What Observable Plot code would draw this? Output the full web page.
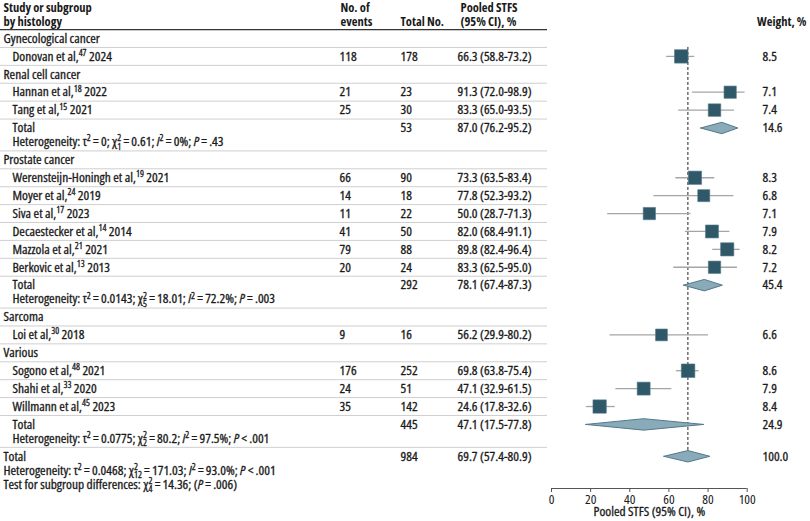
<!DOCTYPE html>
<html>
<head>
<meta charset="utf-8">
<script src="https://cdn.jsdelivr.net/npm/d3@7"></script>
<script src="https://cdn.jsdelivr.net/npm/@observablehq/plot@0.6"></script>
<style>
  html, body { margin: 0; padding: 0; background: #fff; }
  #chart svg { display: block; }
  #chart text { white-space: pre; }
</style>
</head>
<body>
<div id="chart"></div>
<script>
// ---------------- DATA ----------------
const groups = ["Gynecological cancer", "Renal cell cancer", "Prostate cancer", "Sarcoma", "Various"];

const studies = [
  "Donovan et al,^{47} 2024",
  "Hannan et al,^{18} 2022",
  "Tang et al,^{15} 2021",
  "Werensteijn-Honingh et al,^{19} 2021",
  "Moyer et al,^{24} 2019",
  "Siva et al,^{17} 2023",
  "Decaestecker et al,^{14} 2014",
  "Mazzola et al,^{21} 2021",
  "Berkovic et al,^{13} 2013",
  "Loi et al,^{30} 2018",
  "Sogono et al,^{48} 2021",
  "Shahi et al,^{33} 2020",
  "Willmann et al,^{45} 2023"
];
const studyGroup = [0, 1, 1, 2, 2, 2, 2, 2, 2, 3, 4, 4, 4];
const events     = [118, 21, 25, 66, 14, 11, 41, 79, 20, 9, 176, 24, 35];
const totalN     = [178, 23, 30, 90, 18, 22, 50, 88, 24, 16, 252, 51, 142];
const estimate   = [66.3, 91.3, 83.3, 73.3, 77.8, 50.0, 82.0, 89.8, 83.3, 56.2, 69.8, 47.1, 24.6];
const lower      = [58.8, 72.0, 65.0, 63.5, 52.3, 28.7, 68.4, 82.4, 62.5, 29.9, 63.8, 32.9, 17.8];
const upper      = [73.2, 98.9, 93.5, 83.4, 93.2, 71.3, 91.1, 96.4, 95.0, 80.2, 75.4, 61.5, 32.6];
const weight     = [8.5, 7.1, 7.4, 8.3, 6.8, 7.1, 7.9, 8.2, 7.2, 6.6, 8.6, 7.9, 8.4];

const subGroup    = [1, 2, 4];
const subN        = [53, 292, 445];
const subEstimate = [87.0, 78.1, 47.1];
const subLower    = [76.2, 67.4, 17.5];
const subUpper    = [95.2, 87.3, 77.8];
const subWeight   = [14.6, 45.4, 24.9];
const subHetero   = [
  "Heterogeneity: τ^{2}\u2009=\u20090; χ_{1}^{2}\u2009=\u20090.61; *I*^{2}\u2009=\u20090%; *P*\u2009=\u2009.43",
  "Heterogeneity: τ^{2}\u2009=\u20090.0143; χ_{5}^{2}\u2009=\u200918.01; *I*^{2}\u2009=\u200972.2%; *P*\u2009=\u2009.003",
  "Heterogeneity: τ^{2}\u2009=\u20090.0775; χ_{2}^{2}\u2009=\u200980.2; *I*^{2}\u2009=\u200997.5%; *P*\u2009<\u2009.001"
];

const overallN = 984, overallEstimate = 69.7, overallLower = 57.4, overallUpper = 80.9, overallWeight = 100.0;
const overallHetero = "Heterogeneity: τ^{2}\u2009=\u20090.0468; χ_{12}^{2}\u2009=\u2009171.03; *I*^{2}\u2009=\u200993.0%; *P*\u2009<\u2009.001";
const subgroupTest = "Test for subgroup differences: χ_{4}^{2}\u2009=\u200914.36; (*P*\u2009=\u2009.006)";

const headerStudy = "Study or subgroup\nby histology";
const headerEvents = "No. of\nevents";
const headerTotal = "Total No.";
const headerCI = "Pooled STFS\n(95% CI), %";
const headerWeight = "Weight, %";
const xTicks = [0, 20, 40, 60, 80, 100];
const xLabel = "Pooled STFS (95% CI), %";

// ---------------- LAYOUT ----------------
const FONT = "'Open Sans', 'DejaVu Sans Condensed', sans-serif";
const FS = 13.4;
const INK = "#1a1a1a";
const W = 810, H = 521;
const X0 = 551, X100 = 746.7;               // pixel positions of 0 and 100
const ppu = (X100 - X0) / 100;
const ROW = 17.9, Y0 = 38, AXIS_Y = 488;    // row pitch, first row centre, axis line
const col = {study: 3, indent: 12, events: 339, total: 400, ci: 457, weight: 762};
const tableRight = 547;

const fmt = v => v.toFixed(1);
const ciText = (e, l, u) => `${fmt(e)} (${fmt(l)}-${fmt(u)})`;

const rows = [];
let u = -1;
function push(r) { u += (r.kind === "het" ? 0.78 : 1); r.u = u; rows.push(r); }
groups.forEach((g, gi) => {
  push({kind: "group", label: g});
  studyGroup.forEach((sg, i) => {
    if (sg !== gi) return;
    push({kind: "study", label: studies[i], events: events[i], total: totalN[i],
          ci: ciText(estimate[i], lower[i], upper[i]), est: estimate[i], lo: lower[i], hi: upper[i], w: weight[i]});
  });
  const si = subGroup.indexOf(gi);
  if (si >= 0) {
    push({kind: "total", label: "Total", total: subN[si], ci: ciText(subEstimate[si], subLower[si], subUpper[si]),
          est: subEstimate[si], lo: subLower[si], hi: subUpper[si], w: subWeight[si]});
    push({kind: "het", label: subHetero[si]});
  }
});
push({kind: "overall", label: "Total", total: overallN, ci: ciText(overallEstimate, overallLower, overallUpper),
      est: overallEstimate, lo: overallLower, hi: overallUpper, w: overallWeight});
push({kind: "het", label: overallHetero, flush: true});
push({kind: "het", label: subgroupTest, flush: true});

// separators between rows
const seps = [];
for (let i = 1; i < rows.length; i++) {
  if (rows[i].kind === "het") continue;
  seps.push((rows[i - 1].u + rows[i].u) / 2);
}

const studyRows = rows.filter(r => r.kind === "study");
const totalRows = rows.filter(r => r.kind === "total" || r.kind === "overall");
const HH = 0.32; // diamond half-height (rows)
const diamonds = totalRows.flatMap((r, k) => [
  {x: r.lo, y: r.u, id: k}, {x: r.est, y: r.u - HH, id: k}, {x: r.hi, y: r.u, id: k},
  {x: r.est, y: r.u + HH, id: k}, {x: r.lo, y: r.u, id: k}
]);
const overallRow = rows.find(r => r.kind === "overall");

const uOf = px => (px - Y0) / ROW;
const hLine1 = uOf(7), hLine2 = uOf(21), hMid = (hLine1 + hLine2) / 2;

const txt = {fill: INK, stroke: INK, strokeWidth: 0.3, fontSize: FS, frameAnchor: "left", textAnchor: "start"};
const num = {...txt, letterSpacing: "0.55px"};
const hdr = {...txt, stroke: null, fontSize: 12.5, fontWeight: "bold", lineHeight: 14 / 12.5};

const svg = Plot.plot({
  width: W, height: H,
  marginLeft: 0, marginRight: 0, marginTop: 0, marginBottom: H - AXIS_Y,
  style: {fontFamily: FONT, fontSize: FS + "px", fontStretch: "75%", background: "white", color: INK},
  x: {domain: [-X0 / ppu, (W - X0) / ppu]},
  y: {domain: [uOf(0), uOf(AXIS_Y)], reverse: true, axis: null},
  r: {type: "sqrt", domain: [0, 10], range: [0, 2.6 * Math.sqrt(10)]},
  marks: [
    // table separators
    Plot.ruleY(seps, {stroke: "#cfcfcf", strokeWidth: 1, insetRight: W - tableRight}),
    Plot.ruleY([-0.5], {stroke: "#333", strokeWidth: 1.2, insetRight: W - tableRight}),
    // header
    Plot.text([headerStudy], {...hdr, y: hMid, dx: col.study}),
    Plot.text([headerEvents], {...hdr, y: hMid, dx: col.events + 1}),
    Plot.text([headerTotal], {...hdr, y: hLine2, dx: col.total}),
    Plot.text([headerCI], {...hdr, y: hMid, dx: col.ci + 3}),
    Plot.text([headerWeight], {...hdr, y: hLine2, frameAnchor: "right", textAnchor: "end", dx: -4}),
    // labels
    Plot.text(rows.filter(r => r.kind === "group" || r.kind === "overall" || r.flush), {...txt, y: "u", text: "label", dx: col.study}),
    Plot.text(rows.filter(r => !(r.kind === "group" || r.kind === "overall" || r.flush)), {...txt, y: "u", text: "label", dx: col.indent}),
    Plot.text(rows.filter(r => r.events != null), {...num, y: "u", text: "events", dx: col.events}),
    Plot.text(rows.filter(r => r.total != null), {...num, y: "u", text: "total", dx: col.total}),
    Plot.text(rows.filter(r => r.ci != null), {...num, y: "u", text: "ci", dx: col.ci}),
    Plot.text(rows.filter(r => r.w != null), {...num, y: "u", text: d => fmt(d.w), dx: col.weight}),
    // forest
    Plot.ruleX([overallEstimate], {y1: 0.5, y2: overallRow.u - HH, stroke: "#222", strokeWidth: 1, strokeDasharray: "3,2"}),
    Plot.ruleY(studyRows, {y: "u", x1: "lo", x2: "hi", stroke: "#a5a5a5", strokeWidth: 1.3}),
    Plot.dot(studyRows, {x: "est", y: "u", r: "w", symbol: "square", fill: "#2f5968", stroke: "#56798a", strokeWidth: 0.6}),
    Plot.line(diamonds, {x: "x", y: "y", z: "id", fill: "#89aab8", stroke: "#54798a", strokeWidth: 1, curve: "linear"}),
    // axis
    Plot.ruleY([uOf(AXIS_Y)], {x1: 0, x2: 100, stroke: "#555", strokeWidth: 1}),
    Plot.axisX({ticks: xTicks, tickSize: 4, tickPadding: 2, label: null, fontSize: FS, stroke: "#555", fill: INK}),
    Plot.text([xLabel], {x: 50, y: uOf(511.5), fontSize: FS, fill: INK, stroke: INK, strokeWidth: 0.3})
  ]
});
document.getElementById("chart").append(svg);

// rich text: superscripts, stacked sub/superscripts, italics
const NS = "http://www.w3.org/2000/svg";
const SUP = 9.3, UP = 4.8, DOWN = 3.8;
function richify(el) {
  if (el.querySelector("tspan")) return;
  const s = el.textContent;
  if (!/[\^_*]/.test(s)) return;
  el.textContent = "";
  const re = /_\{([^}]*)\}\^\{([^}]*)\}|\^\{([^}]*)\}|\*([^*]*)\*|([^_^*]+)/g;
  let shift = 0, padX = 0, m;
  const add = (t, a) => {
    const ts = document.createElementNS(NS, "tspan");
    ts.textContent = t;
    for (const k in a) ts.setAttribute(k, a[k]);
    el.appendChild(ts);
    return ts;
  };
  while ((m = re.exec(s))) {
    if (m[1] !== undefined) {
      const sup = add(m[2], {"font-size": SUP, dy: -UP + shift});
      const w1 = sup.getComputedTextLength();
      const sub = add(m[1], {"font-size": SUP, dx: -w1, dy: UP + DOWN});
      const w2 = sub.getComputedTextLength();
      shift = -DOWN; padX = Math.max(0, w1 - w2);
    } else if (m[3] !== undefined) {
      add(m[3], {"font-size": SUP, dy: -UP + shift});
      shift = UP; padX = 0;
    } else {
      const a = {};
      if (shift) a.dy = shift;
      if (padX) a.dx = padX;
      if (m[4] !== undefined) a["font-style"] = "italic";
      add(m[4] !== undefined ? m[4] : m[5], a);
      shift = 0; padX = 0;
    }
  }
}
svg.querySelectorAll("text").forEach(richify);
</script>
</body>
</html>
